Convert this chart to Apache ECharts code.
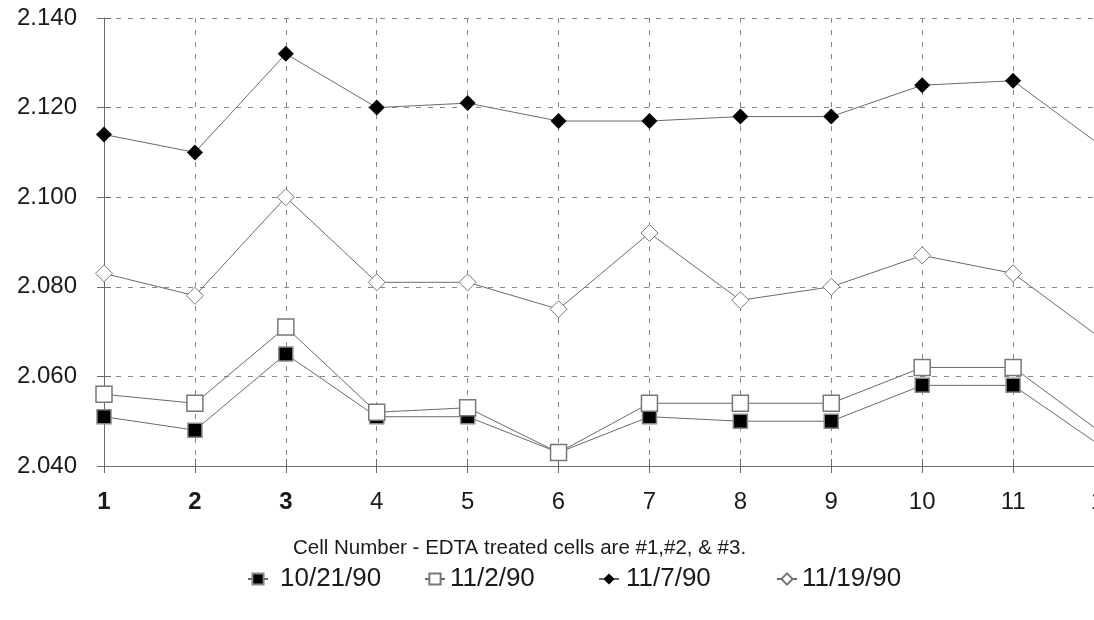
<!DOCTYPE html>
<html>
<head>
<meta charset="utf-8">
<script src="https://cdn.jsdelivr.net/npm/echarts@6/dist/echarts.min.js"></script>
<style>
html,body{margin:0;padding:0;background:#fff;}
#c{width:1094px;height:620px;}
</style>
</head>
<body>
<div id="c"></div>
<script>
const categories = ['1','2','3','4','5','6','7','8','9','10','11','12'];
const s1021 = [2.051, 2.048, 2.065, 2.051, 2.051, 2.043, 2.051, 2.050, 2.050, 2.058, 2.058, 2.044];
const s112  = [2.056, 2.054, 2.071, 2.052, 2.053, 2.043, 2.054, 2.054, 2.054, 2.062, 2.062, 2.047];
const s117  = [2.114, 2.110, 2.132, 2.120, 2.121, 2.117, 2.117, 2.118, 2.118, 2.125, 2.126, 2.111];
const s1119 = [2.083, 2.078, 2.100, 2.081, 2.081, 2.075, 2.092, 2.077, 2.080, 2.087, 2.083, 2.068];
const seriesNames = ['10/21/90', '11/2/90', '11/7/90', '11/19/90'];
const axisTitle = 'Cell Number - EDTA treated cells are #1,#2, & #3.';

const font = 'Liberation Sans, Arial, sans-serif';
const lineColor = '#6a6a6a';
const txt = '#1a1a1a';
const chart = echarts.init(document.getElementById('c'));

function mk(name, data, symbol, size, fill, border, bw) {
  return {
    name: name, type: 'line', data: data,
    symbol: symbol, symbolSize: size,
    lineStyle: {color: lineColor, width: 1},
    itemStyle: {color: fill, borderColor: border, borderWidth: bw},
    emphasis: {disabled: true},
    animation: false
  };
}

const legendLeft = [242, 419, 593, 771];
const legendPad = [7, 0, 2, 0];
const legends = seriesNames.map(function (n, i) {
  return {
    left: legendLeft[i], top: 561, itemWidth: 20, itemHeight: 14,
    textStyle: {fontFamily: font, fontSize: 26, color: txt, padding: [0, 0, 0, legendPad[i]]},
    data: [n], selectedMode: false
  };
});

chart.setOption({
  backgroundColor: '#fff',
  textStyle: {fontFamily: font},
  grid: {left: 104, top: 18, width: 1000, height: 448, containLabel: false, outerBoundsMode: 'none'},
  title: {
    text: axisTitle, left: 293, top: 538, padding: 0,
    textStyle: {fontFamily: font, fontSize: 20.5, fontWeight: 'normal', color: txt}
  },
  legend: legends,
  xAxis: [{
    type: 'category', data: categories, boundaryGap: false,
    axisLine: {lineStyle: {color: lineColor, width: 1}},
    axisTick: {show: true, length: 7, lineStyle: {color: lineColor}},
    splitLine: {show: true, lineStyle: {color: '#888', type: [5, 7], width: 1}},
    axisLabel: {
      margin: 24, fontSize: 24, color: txt, fontFamily: font,
      formatter: function (v, i) { return i < 3 ? '{b|' + v + '}' : v; },
      rich: {b: {fontWeight: 'bold', fontSize: 24, fontFamily: font, color: txt}}
    }
  }, {
    type: 'category', data: categories, boundaryGap: false, position: 'bottom',
    axisLine: {show: false},
    axisTick: {show: true, inside: true, length: 7, lineStyle: {color: lineColor}},
    splitLine: {show: false}, axisLabel: {show: false}
  }],
  yAxis: [{
    type: 'value', min: 2.04, max: 2.14, interval: 0.02,
    axisLine: {show: true, lineStyle: {color: lineColor, width: 1}},
    axisTick: {show: true, length: 7, lineStyle: {color: lineColor}},
    splitLine: {show: true, lineStyle: {color: '#888', type: [5, 7], width: 1}},
    axisLabel: {
      margin: 27, fontSize: 24, color: txt, fontFamily: font,
      formatter: function (v) { return v.toFixed(3); }
    }
  }, {
    type: 'value', min: 2.04, max: 2.14, interval: 0.02, position: 'left',
    axisLine: {show: false},
    axisTick: {show: true, inside: true, length: 7, lineStyle: {color: lineColor}},
    splitLine: {show: false}, axisLabel: {show: false}
  }],
  series: [
    mk(seriesNames[0], s1021, 'rect', 14, '#000', '#888', 1.5),
    mk(seriesNames[1], s112, 'rect', 16, '#fff', '#777', 1.5),
    mk(seriesNames[2], s117, 'diamond', 16, '#000', '#000', 0),
    mk(seriesNames[3], s1119, 'diamond', 17, '#fff', '#777', 1)
  ]
});
</script>
</body>
</html>
